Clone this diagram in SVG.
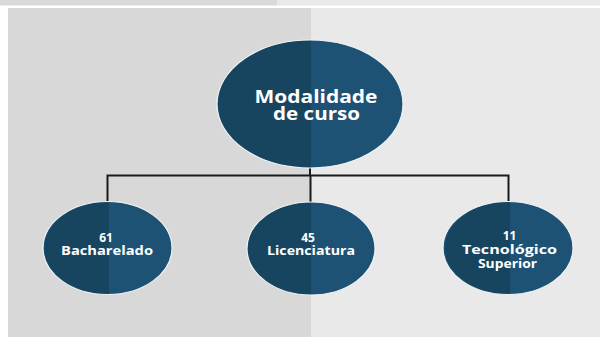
<svg xmlns="http://www.w3.org/2000/svg" width="600" height="337" viewBox="0 0 600 337">
  <style>
    .light { fill: #1d5274; }
    .dark { fill: #17445f; }
    .rim { fill: none; stroke: #eef2f4; stroke-width: 1.2; }
    .t { fill: #ffffff; font-family: "Open Sans", "DejaVu Sans", sans-serif; font-weight: bold; text-anchor: middle; }
    .big { font-size: 18px; }
    .small { font-size: 12px; }
    .conn { fill: none; stroke: #1a1a1a; stroke-width: 2; }
  </style>
  <rect x="0" y="0" width="600" height="337" fill="#ffffff"/>
  <rect x="0" y="0" width="277" height="5.5" fill="#d9d9d9"/>
  <rect x="277" y="0" width="323" height="5.5" fill="#e9e9e9"/>
  <rect x="8" y="8" width="303" height="329" fill="#d8d8d8"/>
  <rect x="311" y="8" width="289" height="329" fill="#e9e9e9"/>

  <g id="connectors">
    <path class="conn" d="M310,168 V175.5"/>
    <path class="conn" d="M107.5,201 V175.5 H508.5 V201"/>
    <path class="conn" d="M310.5,175.5 V202"/>
  </g>

  <g id="node-main">
    <ellipse class="light" cx="310" cy="104" rx="93" ry="64"/>
    <path class="dark" d="M311,40 A93,64 0 0 0 311,168 Z"/>
    <ellipse class="rim" cx="310" cy="104" rx="93" ry="64"/>
    <text class="t big" x="316" y="102.5" textLength="123" lengthAdjust="spacingAndGlyphs">Modalidade</text>
    <text class="t big" x="316.5" y="120" textLength="87" lengthAdjust="spacingAndGlyphs">de curso</text>
  </g>

  <g id="node-bacharelado">
    <ellipse class="light" cx="107.5" cy="248" rx="64.5" ry="46.5"/>
    <path class="dark" d="M109,201.5 A64.5,46.5 0 0 0 109,294.5 Z"/>
    <ellipse class="rim" cx="107.5" cy="248" rx="64.5" ry="46.5"/>
    <text class="t small" x="106" y="241.5">61</text>
    <text class="t small" x="107" y="255" textLength="92" lengthAdjust="spacingAndGlyphs">Bacharelado</text>
  </g>

  <g id="node-licenciatura">
    <ellipse class="light" cx="311" cy="248.5" rx="64" ry="46.5"/>
    <path class="dark" d="M311,202 A64,46.5 0 0 0 311,295 Z"/>
    <ellipse class="rim" cx="311" cy="248.5" rx="64" ry="46.5"/>
    <text class="t small" x="308" y="241.5">45</text>
    <text class="t small" x="311" y="255" textLength="88" lengthAdjust="spacingAndGlyphs">Licenciatura</text>
  </g>

  <g id="node-tecnologico">
    <ellipse class="light" cx="508" cy="248" rx="65" ry="46.5"/>
    <path class="dark" d="M510,201.5 A65,46.5 0 0 0 510,294.5 Z"/>
    <ellipse class="rim" cx="508" cy="248" rx="65" ry="46.5"/>
    <text class="t small" x="509.5" y="240">11</text>
    <text class="t small" x="509.5" y="254" textLength="95" lengthAdjust="spacingAndGlyphs">Tecnológico</text>
    <text class="t small" x="507.5" y="268" textLength="59" lengthAdjust="spacingAndGlyphs">Superior</text>
  </g>
</svg>
